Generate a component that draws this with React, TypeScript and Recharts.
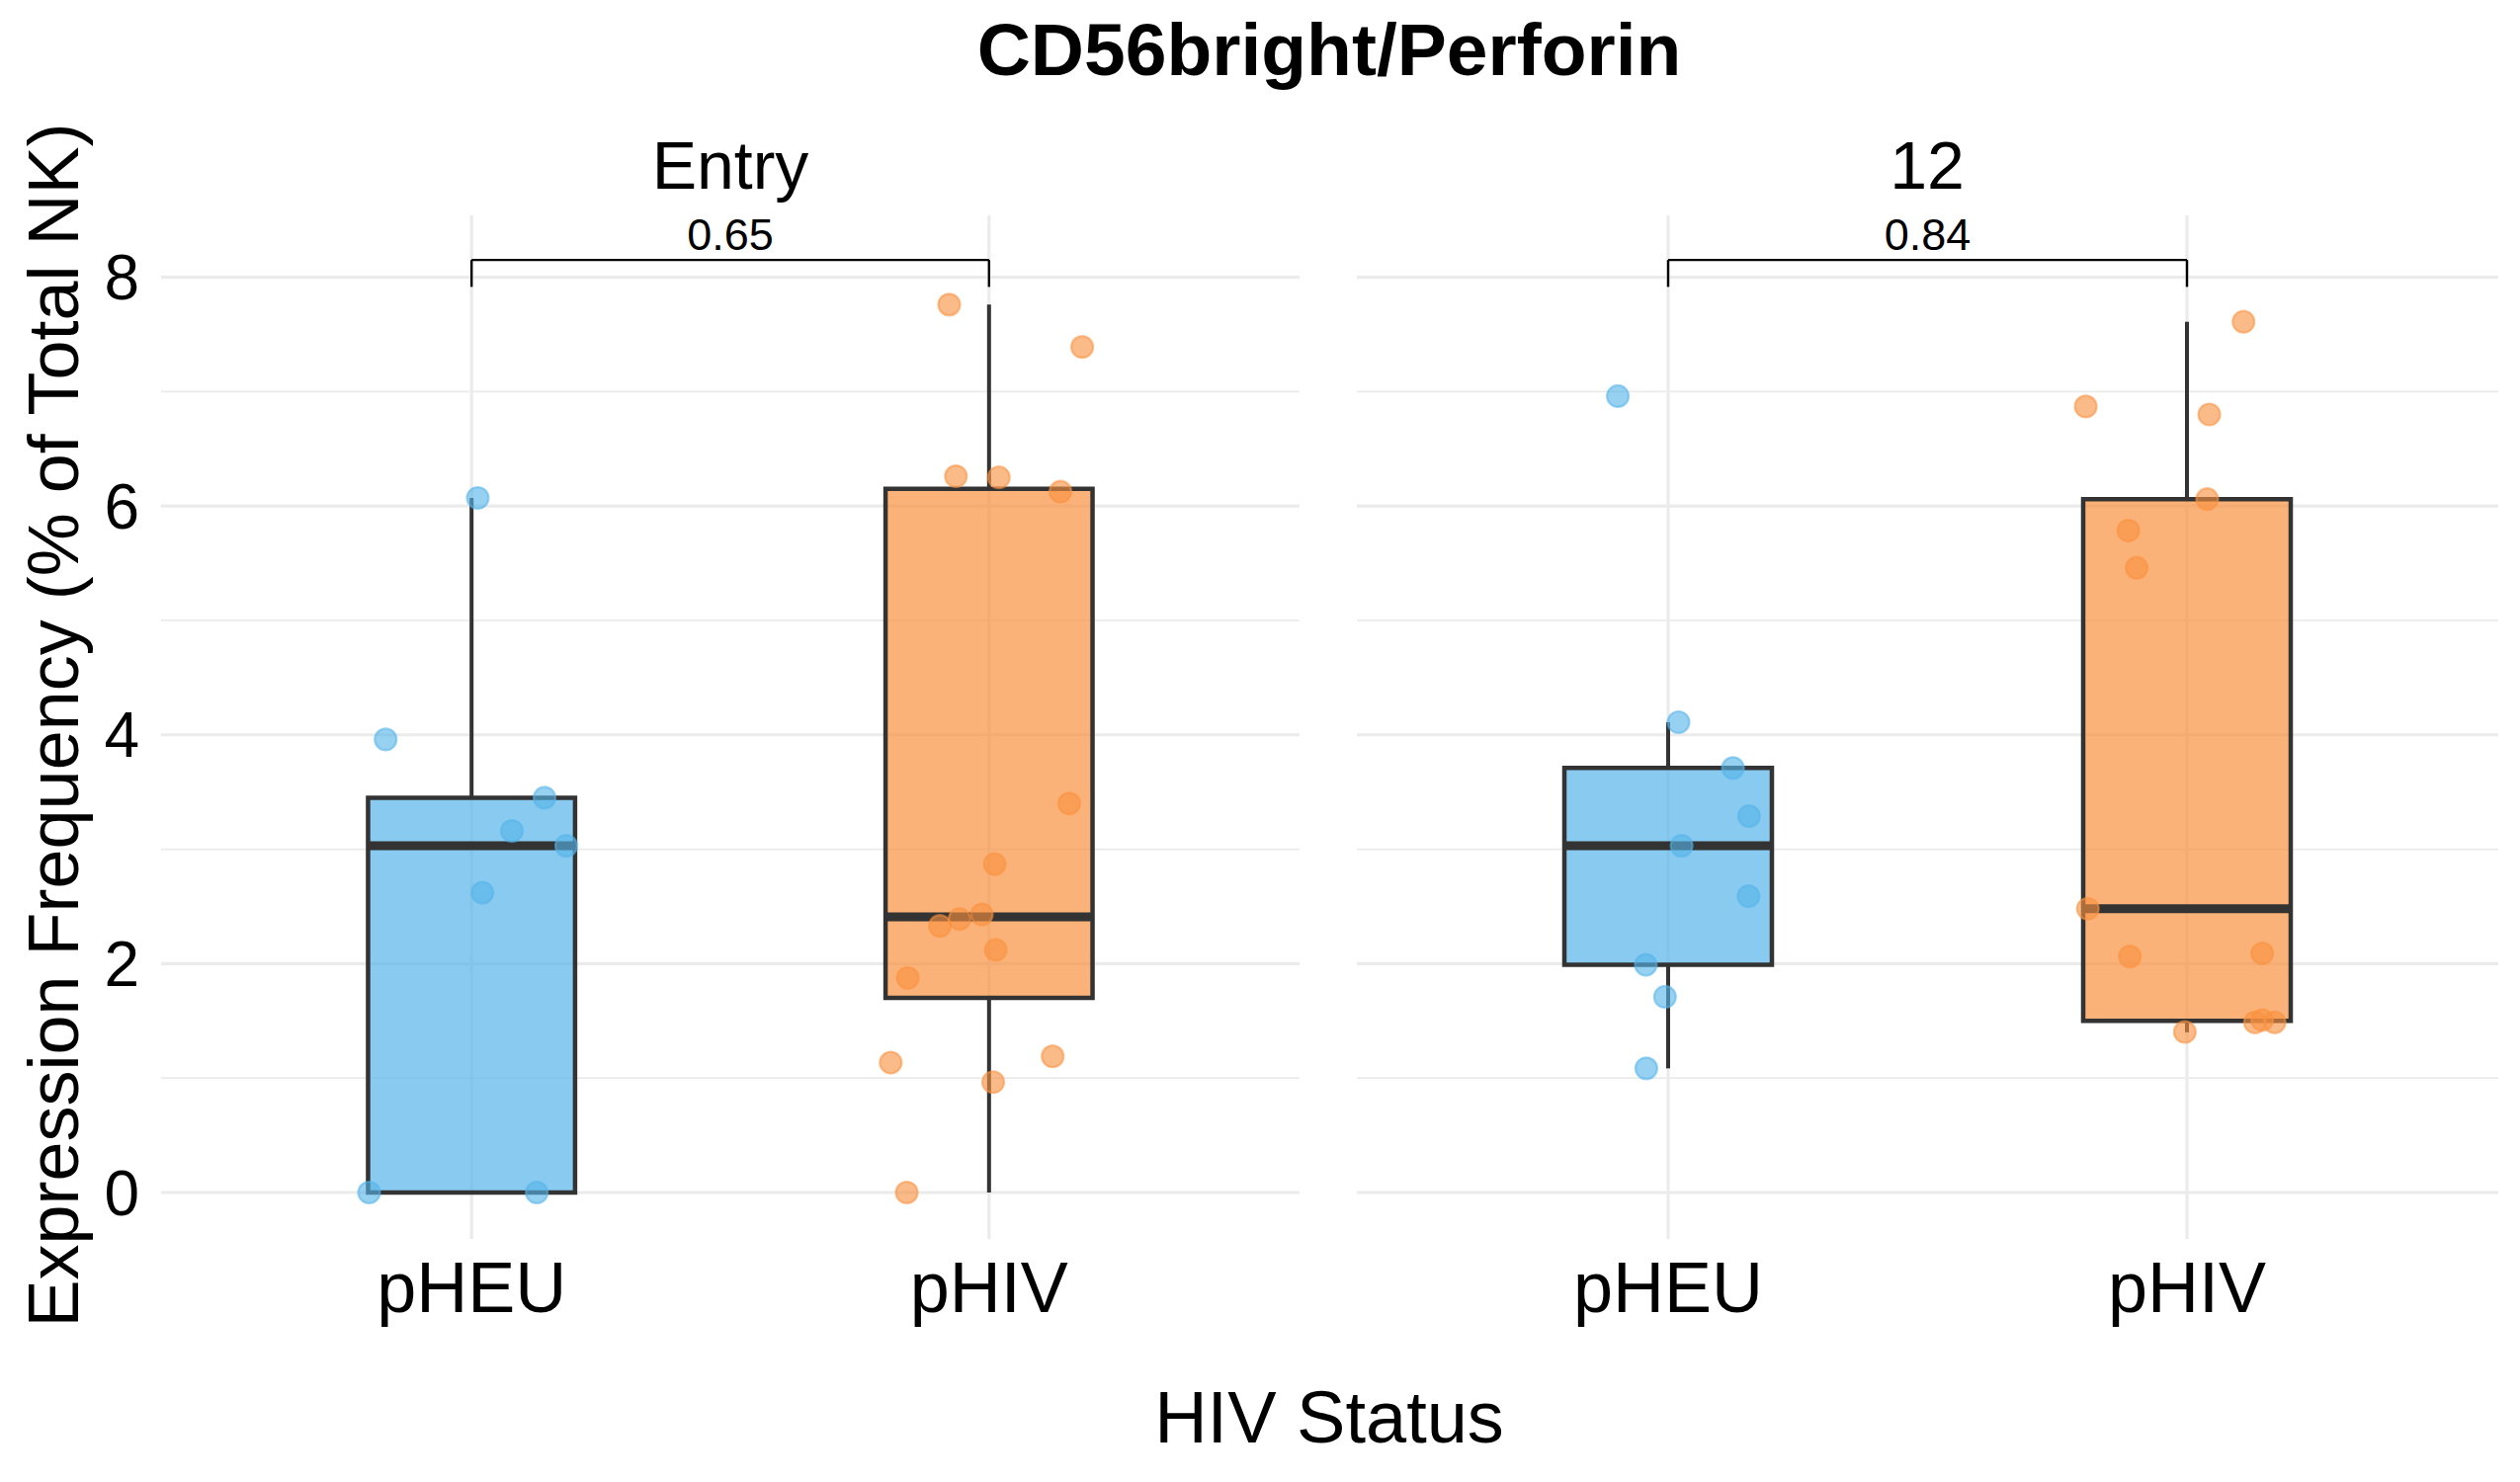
import React from 'react';
import {
  ComposedChart,
  Scatter,
  XAxis,
  YAxis,
  CartesianGrid,
  ReferenceArea,
  ReferenceLine,
} from 'recharts';

// ---------- data ----------
const GROUPS = ['pHEU', 'pHIV'];
const TIMEPOINTS = ['Entry', '12'];
const P_VALUES = ['0.65', '0.84'];
const Y_TICKS = [0, 2, 4, 6, 8];
const Y_MINOR_TICKS = [1, 3, 5, 7];
const Y_DOMAIN: [number, number] = [-0.406, 8.54];
const X_DOMAIN: [number, number] = [0.4, 2.6];

// box statistics, per timepoint: [pHEU, pHIV]
const BOX_MIN = [[0, 0], [1.085, 1.4]];
const BOX_Q1 = [[0, 1.7], [1.99, 1.5]];
const BOX_MEDIAN = [[3.03, 2.41], [3.03, 2.48]];
const BOX_Q3 = [[3.45, 6.15], [3.71, 6.06]];
const BOX_MAX = [[6.07, 7.76], [4.11, 7.61]];

// individual observations (value) and their horizontal jitter (in category units)
const ENTRY_PHEU_VALUES = [6.07, 3.96, 3.45, 3.16, 3.03, 2.62, 0, 0];
const ENTRY_PHEU_JITTER = [0.012, -0.166, 0.141, 0.078, 0.183, 0.021, -0.198, 0.126];

const ENTRY_PHIV_VALUES = [7.76, 7.39, 6.26, 6.25, 6.125, 3.4, 2.87, 2.43, 2.39, 2.33, 2.12, 1.875, 1.19, 1.135, 0.965, 0];
const ENTRY_PHIV_JITTER = [-0.077, 0.18, -0.064, 0.019, 0.138, 0.155, 0.011, -0.014, -0.057, -0.095, 0.013, -0.157, 0.123, -0.19, 0.008, -0.159];

const M12_PHEU_VALUES = [6.96, 4.11, 3.71, 3.29, 3.03, 2.59, 1.99, 1.71, 1.085];
const M12_PHEU_JITTER = [-0.097, 0.02, 0.125, 0.156, 0.026, 0.155, -0.043, -0.006, -0.042];

const M12_PHIV_VALUES = [7.61, 6.87, 6.8, 6.06, 5.785, 5.46, 2.48, 2.09, 2.063, 1.507, 1.487, 1.487, 1.403];
const M12_PHIV_JITTER = [0.109, -0.195, 0.043, 0.039, -0.113, -0.097, -0.191, 0.145, -0.11, 0.145, 0.131, 0.169, -0.004];

const POINT_VALUES = [
  [ENTRY_PHEU_VALUES, ENTRY_PHIV_VALUES],
  [M12_PHEU_VALUES, M12_PHIV_VALUES],
];
const POINT_JITTER = [
  [ENTRY_PHEU_JITTER, ENTRY_PHIV_JITTER],
  [M12_PHEU_JITTER, M12_PHIV_JITTER],
];

const BRACKET_Y = 8.15;
const BRACKET_TIP = 7.915;

// ---------- style ----------
const FONT = '"Liberation Sans", Arial, Helvetica, sans-serif';
const GROUP_COLORS = ['#56B4E9', '#F99240'];
const BOX_HALF_WIDTH = 0.2;
const GRID_COLOR = '#EBEBEB';
const BOX_LINE = '#333333';

const makeDot = (color: string) => (props: any) => {
  if (props.cx == null || props.cy == null) return <g />;
  return (
    <circle
      cx={props.cx}
      cy={props.cy}
      r={11}
      fill={color}
      fillOpacity={0.62}
      stroke={color}
      strokeOpacity={0.55}
      strokeWidth={2.2}
    />
  );
};

function Panel({ t, showY, width, margin }: { t: number; showY: boolean; width: number; margin: any }) {
  const groupPos = GROUPS.map((_, i) => i + 1);
  return (
    <ComposedChart width={width} height={1500} margin={margin}>
      <XAxis
        type="number"
        dataKey="x"
        domain={X_DOMAIN}
        ticks={groupPos}
        allowDataOverflow
        tickFormatter={(v: number) => GROUPS[Math.round(v) - 1] ?? ''}
        axisLine={false}
        tickLine={false}
        tickSize={0}
        tickMargin={23}
        height={246}
        tick={{ fontSize: 72, fill: '#000000', fontFamily: FONT }}
        interval={0}
      />
      <YAxis
        type="number"
        dataKey="y"
        domain={Y_DOMAIN}
        ticks={Y_TICKS}
        allowDataOverflow
        axisLine={false}
        tickLine={false}
        tickSize={0}
        tickMargin={22}
        width={163}
        hide={!showY}
        tick={{ fontSize: 64, fill: '#000000', fontFamily: FONT }}
        interval={0}
      />
      <YAxis yAxisId="minor" type="number" domain={Y_DOMAIN} ticks={Y_MINOR_TICKS} allowDataOverflow hide interval={0} />
      <CartesianGrid yAxisId="minor" vertical={false} stroke={GRID_COLOR} strokeWidth={1.7} syncWithTicks />
      <CartesianGrid stroke={GRID_COLOR} strokeWidth={3.2} syncWithTicks />

      {GROUPS.map((g, i) => (
        <ReferenceArea
          key={'box' + g}
          x1={groupPos[i] - BOX_HALF_WIDTH}
          x2={groupPos[i] + BOX_HALF_WIDTH}
          y1={BOX_Q1[t][i]}
          y2={BOX_Q3[t][i]}
          fill={GROUP_COLORS[i]}
          fillOpacity={0.7}
          stroke={BOX_LINE}
          strokeWidth={4.5}
          ifOverflow="visible"
        />
      ))}
      {GROUPS.map((g, i) =>
        BOX_MAX[t][i] > BOX_Q3[t][i] ? (
          <ReferenceLine
            key={'wu' + g}
            segment={[
              { x: groupPos[i], y: BOX_Q3[t][i] },
              { x: groupPos[i], y: BOX_MAX[t][i] },
            ]}
            stroke={BOX_LINE}
            strokeWidth={4}
            ifOverflow="visible"
          />
        ) : null
      )}
      {GROUPS.map((g, i) =>
        BOX_MIN[t][i] < BOX_Q1[t][i] ? (
          <ReferenceLine
            key={'wl' + g}
            segment={[
              { x: groupPos[i], y: BOX_MIN[t][i] },
              { x: groupPos[i], y: BOX_Q1[t][i] },
            ]}
            stroke={BOX_LINE}
            strokeWidth={4}
            ifOverflow="visible"
          />
        ) : null
      )}
      {GROUPS.map((g, i) => (
        <ReferenceLine
          key={'med' + g}
          segment={[
            { x: groupPos[i] - BOX_HALF_WIDTH, y: BOX_MEDIAN[t][i] },
            { x: groupPos[i] + BOX_HALF_WIDTH, y: BOX_MEDIAN[t][i] },
          ]}
          stroke={BOX_LINE}
          strokeWidth={9}
          ifOverflow="visible"
        />
      ))}

      {GROUPS.map((g, i) => (
        <Scatter
          key={'pts' + g}
          name={g}
          data={POINT_VALUES[t][i].map((v, k) => ({ x: groupPos[i] + POINT_JITTER[t][i][k], y: v }))}
          shape={makeDot(GROUP_COLORS[i])}
          isAnimationActive={false}
        />
      ))}

      {/* significance bracket */}
      <ReferenceLine
        segment={[
          { x: groupPos[0], y: BRACKET_TIP },
          { x: groupPos[0], y: BRACKET_Y },
        ]}
        stroke="#000000"
        strokeWidth={2.4}
        ifOverflow="visible"
      />
      <ReferenceLine
        segment={[
          { x: groupPos[0], y: BRACKET_Y },
          { x: groupPos[1], y: BRACKET_Y },
        ]}
        stroke="#000000"
        strokeWidth={2.4}
        ifOverflow="visible"
        label={{ value: P_VALUES[t], position: 'top', offset: 10, fontSize: 45, fill: '#000000', fontFamily: FONT }}
      />
      <ReferenceLine
        segment={[
          { x: groupPos[1], y: BRACKET_Y },
          { x: groupPos[1], y: BRACKET_TIP },
        ]}
        stroke="#000000"
        strokeWidth={2.4}
        ifOverflow="visible"
      />
    </ComposedChart>
  );
}

export default function App() {
  return (
    <div
      style={{
        position: 'absolute',
        left: 0,
        top: 0,
        width: 2550,
        height: 1500,
        background: '#ffffff',
        fontFamily: FONT,
        overflow: 'hidden',
      }}
    >
      <div style={{ position: 'absolute', left: 0, top: 0 }}>
        <Panel t={0} showY={true} width={1340} margin={{ top: 218, right: 25, bottom: 0, left: 0 }} />
      </div>
      <div style={{ position: 'absolute', left: 1340, top: 0 }}>
        <Panel t={1} showY={false} width={1210} margin={{ top: 218, right: 22, bottom: 0, left: 33 }} />
      </div>
      <svg
        width={2550}
        height={1500}
        style={{ position: 'absolute', left: 0, top: 0, pointerEvents: 'none' }}
      >
        <text x={1345} y={76} textAnchor="middle" fontSize={75} fontWeight="bold" fill="#000" fontFamily={FONT}>
          CD56bright/Perforin
        </text>
        <text x={739} y={191} textAnchor="middle" fontSize={68} fill="#000" fontFamily={FONT}>
          {TIMEPOINTS[0]}
        </text>
        <text x={1950} y={191} textAnchor="middle" fontSize={68} fill="#000" fontFamily={FONT}>
          {TIMEPOINTS[1]}
        </text>
        <text x={1345} y={1460} textAnchor="middle" fontSize={74} fill="#000" fontFamily={FONT}>
          HIV Status
        </text>
        <text
          x={0}
          y={0}
          transform="translate(79,734) rotate(-90)"
          textAnchor="middle"
          fontSize={72}
          fill="#000"
          fontFamily={FONT}
        >
          Expression Frequency (% of Total NK)
        </text>
      </svg>
    </div>
  );
}
